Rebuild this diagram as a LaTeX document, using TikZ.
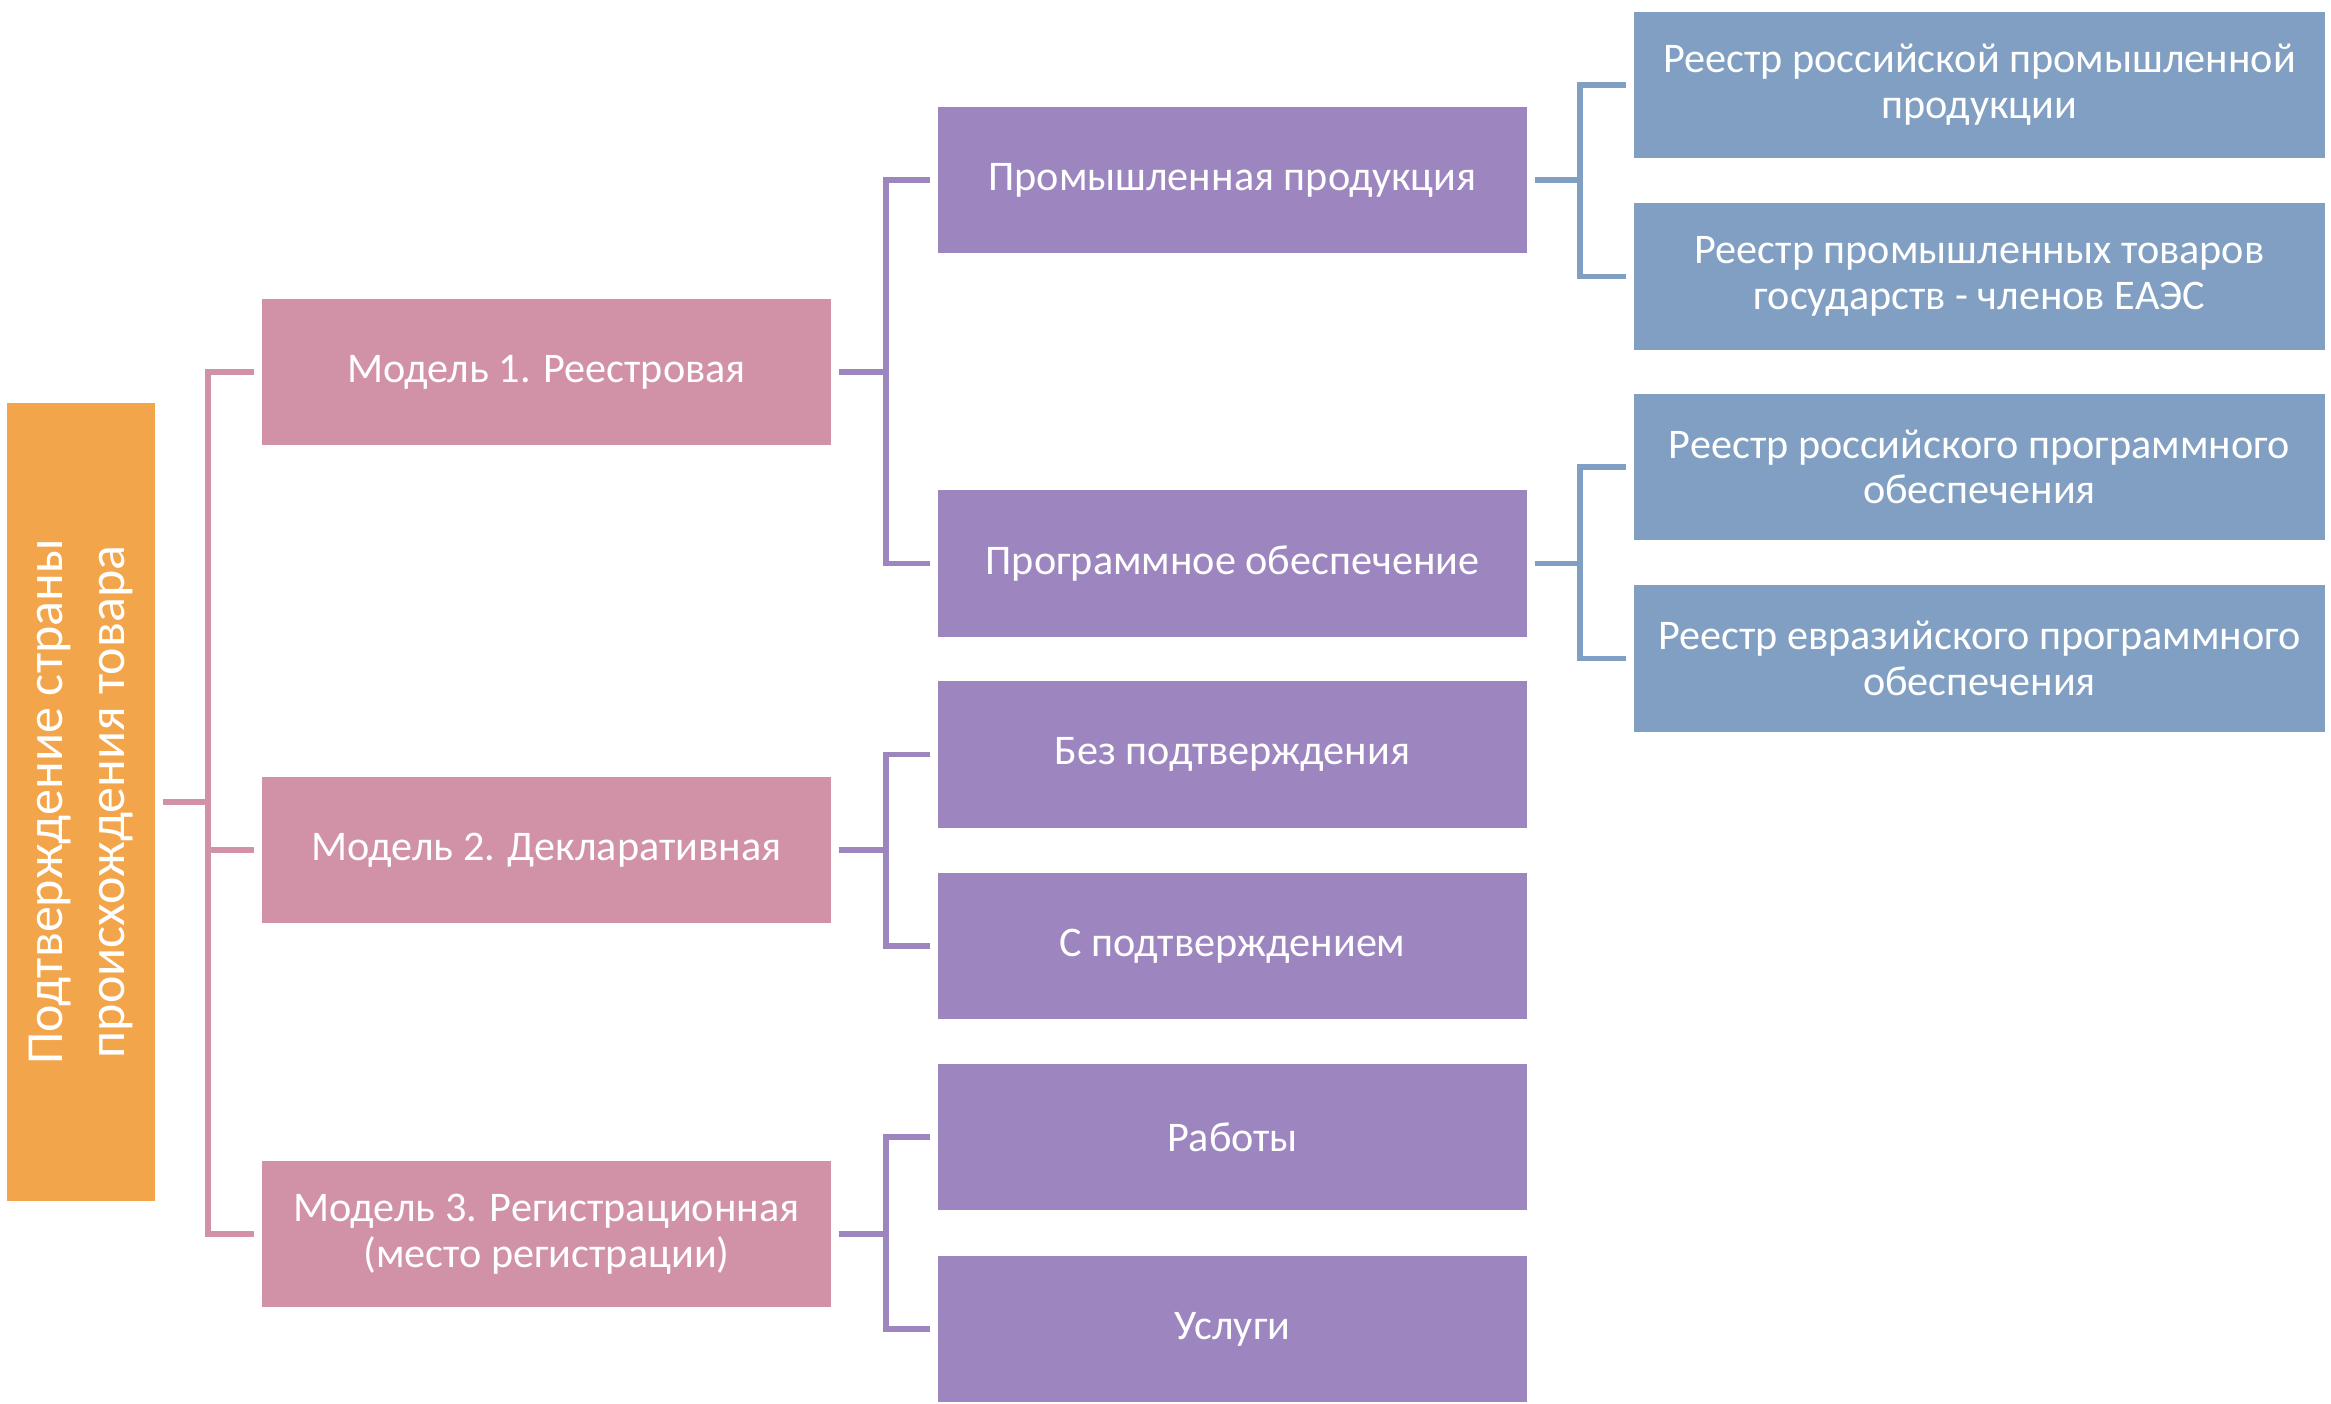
\documentclass[tikz,border=0pt]{standalone}
\usepackage{fontspec}
\setmainfont{Carlito}
\usetikzlibrary{calc}

\definecolor{rootcol}{HTML}{F2A54A}
\definecolor{modelcol}{HTML}{D192A7}
\definecolor{midcol}{HTML}{9D86C0}
\definecolor{regcol}{HTML}{809FC3}

\begin{document}
\begin{tikzpicture}[x=0.01cm, y=-0.01cm,
  box/.style={inner sep=0pt, align=center, text=white, minimum height=\boxH, font=\fontsize{12}{13}\selectfont},
  rootbox/.style={box, fill=rootcol, minimum width=7.98cm, minimum height=1.48cm, font=\fontsize{14.8}{17.8}\selectfont},
  modelbox/.style={box, fill=modelcol, minimum width=5.69cm},
  midbox/.style={box, fill=midcol, minimum width=5.89cm},
  regbox/.style={box, fill=regcol, minimum width=6.91cm},
  link/.style={line width=1.5pt},
  ]
\def\boxH{1.46cm}
\def\gap{0.07cm}

\useasboundingbox (0,0) rectangle (2331,1404);

%root
\node[rootbox, rotate=90] (root) at (81,802) {Подтверждение страны\\происхождения товара};

%models
\node[modelbox] (m1) at (546.5,372) {Модель 1. Реестровая};
\node[modelbox] (m2) at (546.5,850) {Модель 2. Декларативная};
\node[modelbox] (m3) at (546.5,1234) {Модель 3. Регистрационная\\(место регистрации)};

%second level
\node[midbox] (prom) at (1232.5,180) {Промышленная продукция};
\node[midbox] (prog) at (1232.5,563.5) {Программное обеспечение};
\node[midbox] (bez) at (1232.5,754.5) {Без подтверждения};
\node[midbox] (spodt) at (1232.5,946) {С подтверждением};
\node[midbox] (rab) at (1232.5,1137) {Работы};
\node[midbox] (usl) at (1232.5,1329) {Услуги};

%registers
\node[regbox] (rr1) at (1979.5,85) {Реестр российской промышленной\\продукции};
\node[regbox] (rr2) at (1979.5,276.5) {Реестр промышленных товаров\\государств - членов ЕАЭС};
\node[regbox] (rr3) at (1979.5,467) {Реестр российского программного\\обеспечения};
\node[regbox] (rr4) at (1979.5,658.5) {Реестр евразийского программного\\обеспечения};

%draw edges
\coordinate (busA) at (208,0);
\coordinate (busB) at (886,0);
\coordinate (busC) at (1580,0);

\draw[link, modelcol] ([xshift=\gap]root.south) -- (root.south -| busA);
\draw[link, modelcol] ([xshift=-\gap]m1.west) -| (busA |- m3.west) -- ([xshift=-\gap]m3.west);
\draw[link, modelcol] (busA |- m2.west) -- ([xshift=-\gap]m2.west);

\draw[link, midcol] ([xshift=\gap]m1.east) -- (m1.east -| busB);
\draw[link, midcol] ([xshift=-\gap]prom.west) -| (busB |- prog.west) -- ([xshift=-\gap]prog.west);
\draw[link, midcol] ([xshift=\gap]m2.east) -- (m2.east -| busB);
\draw[link, midcol] ([xshift=-\gap]bez.west) -| (busB |- spodt.west) -- ([xshift=-\gap]spodt.west);
\draw[link, midcol] ([xshift=\gap]m3.east) -- (m3.east -| busB);
\draw[link, midcol] ([xshift=-\gap]rab.west) -| (busB |- usl.west) -- ([xshift=-\gap]usl.west);

\draw[link, regcol] ([xshift=\gap]prom.east) -- (prom.east -| busC);
\draw[link, regcol] ([xshift=-\gap]rr1.west) -| (busC |- rr2.west) -- ([xshift=-\gap]rr2.west);
\draw[link, regcol] ([xshift=\gap]prog.east) -- (prog.east -| busC);
\draw[link, regcol] ([xshift=-\gap]rr3.west) -| (busC |- rr4.west) -- ([xshift=-\gap]rr4.west);

\end{tikzpicture}
\end{document}
